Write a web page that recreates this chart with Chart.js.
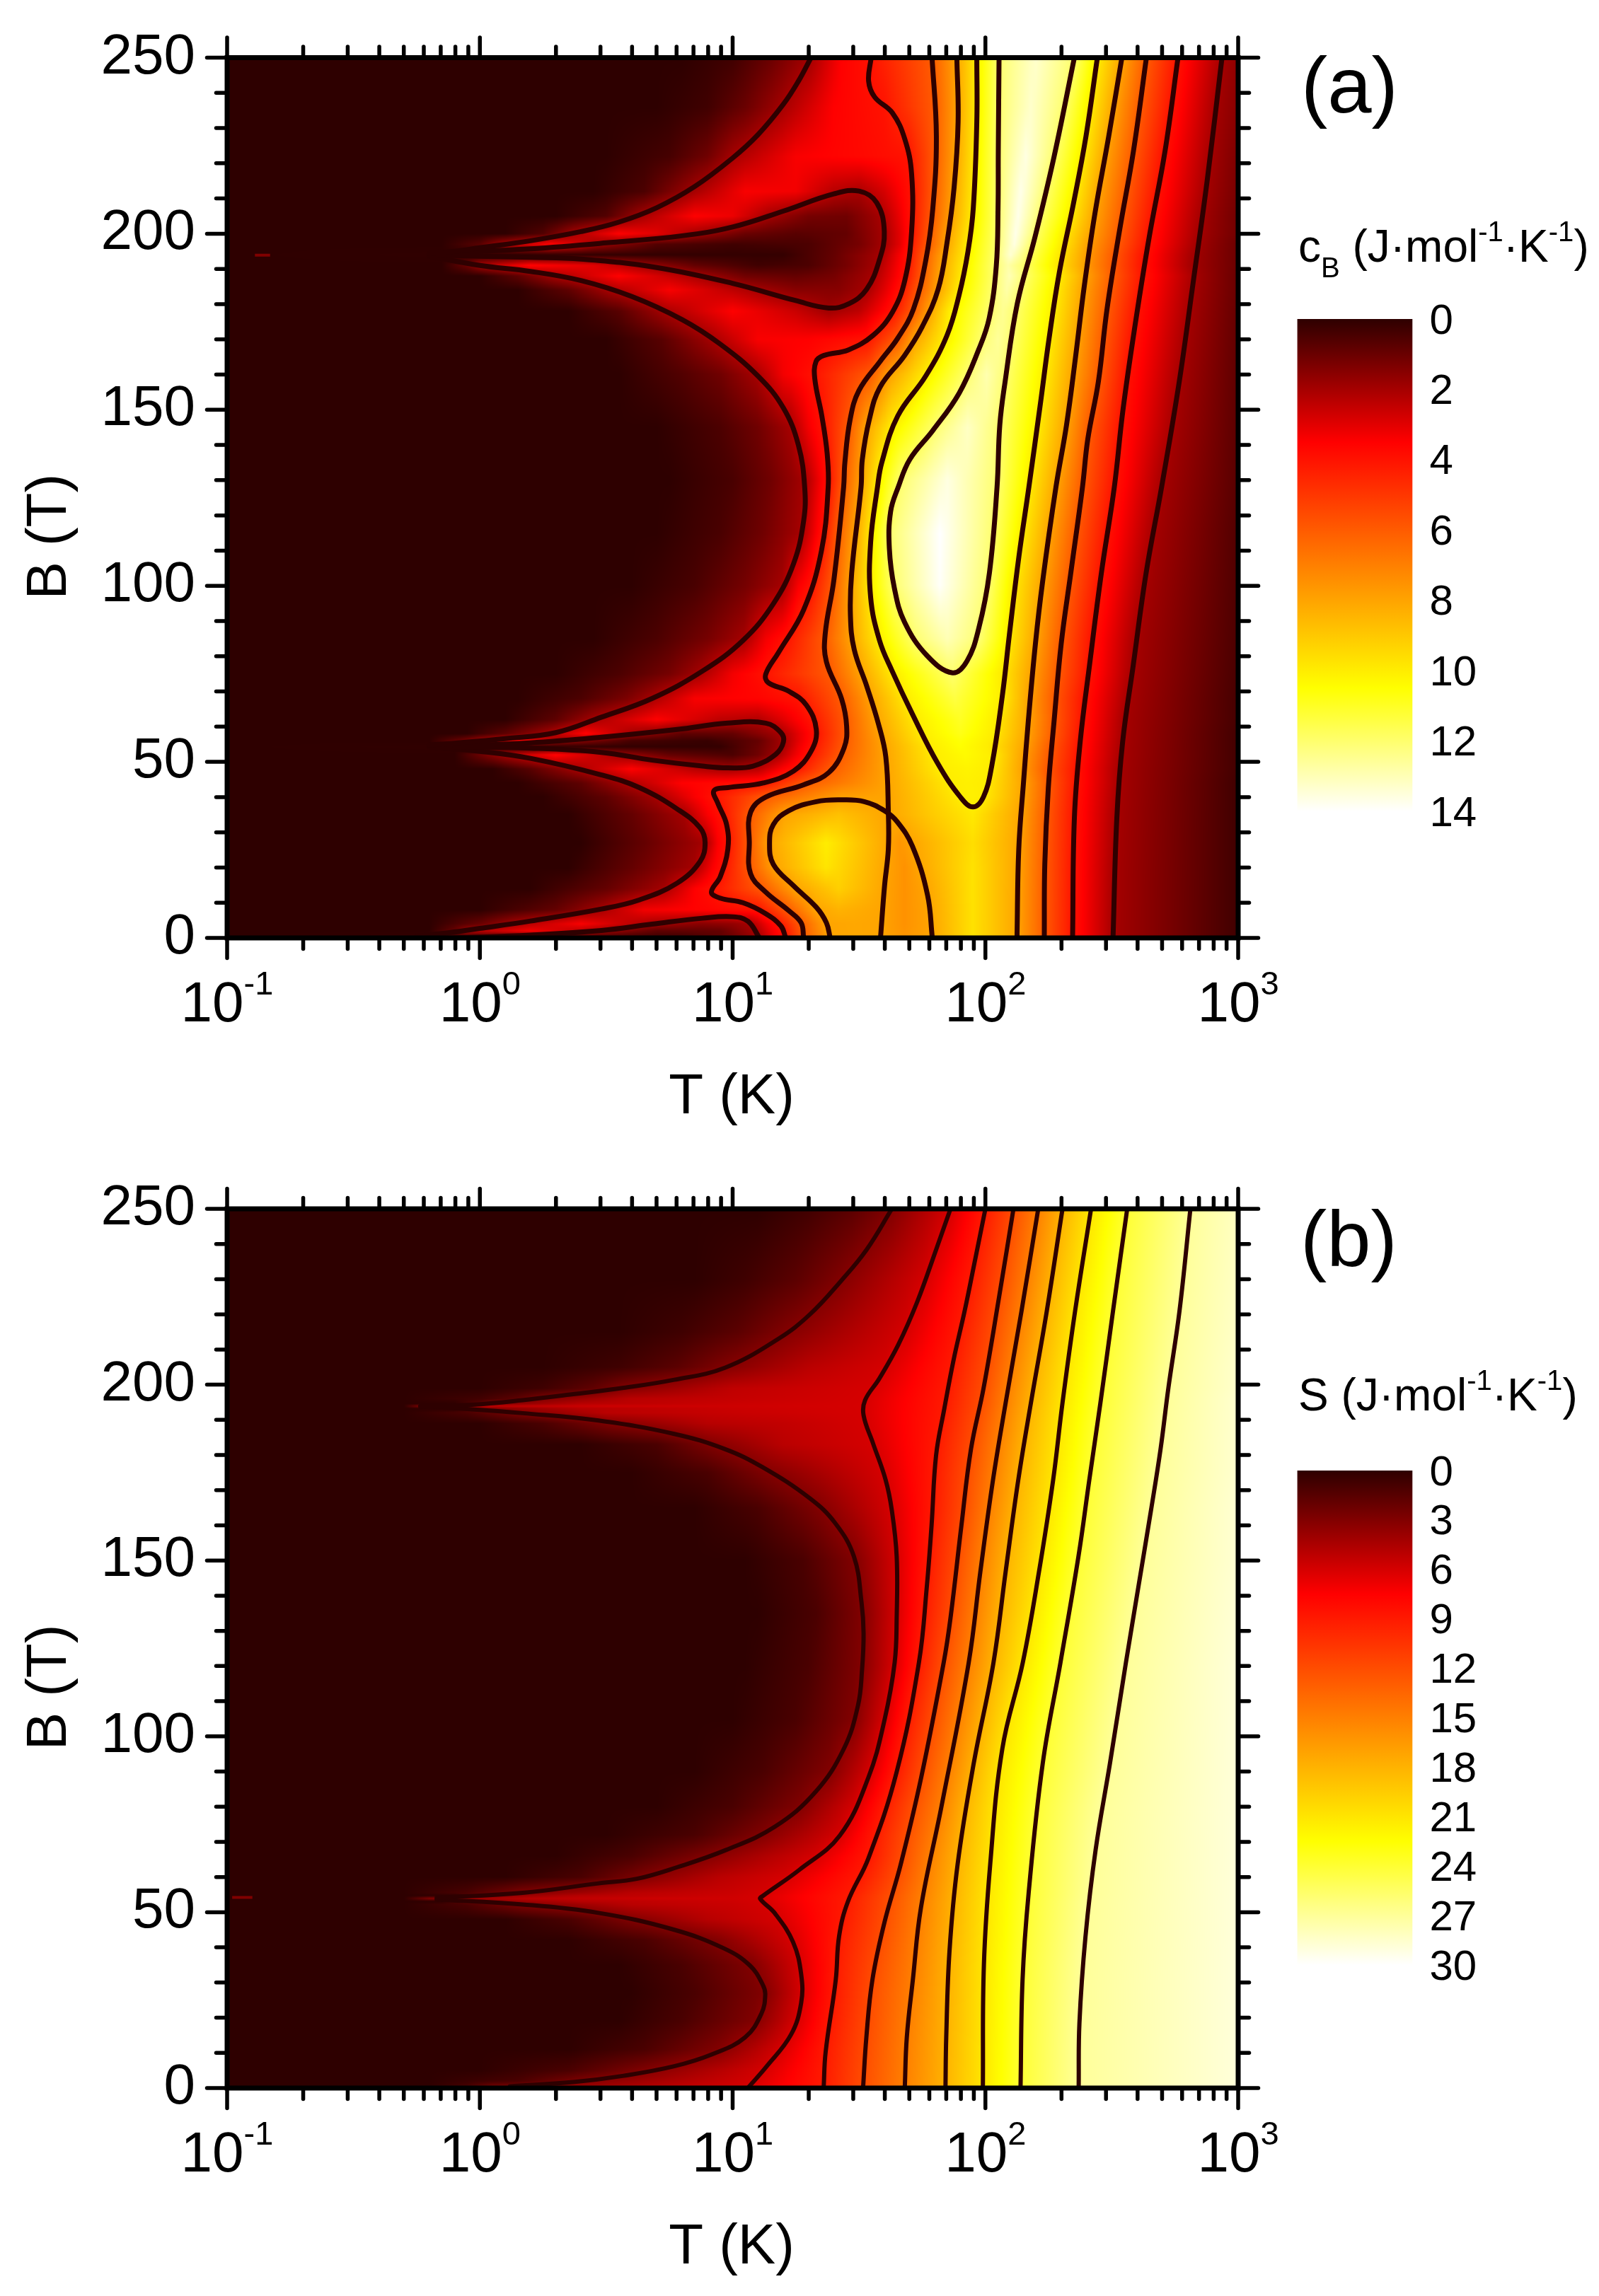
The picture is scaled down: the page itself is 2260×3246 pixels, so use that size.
<!DOCTYPE html>
<html>
<head>
<meta charset="utf-8">
<script src="https://cdn.jsdelivr.net/npm/chart.js@4"></script>
<style>
html, body { margin: 0; background: #fff; }
#page { position: relative; width: 2260px; height: 3246px; overflow: hidden; font-family: "Liberation Sans", Arial, sans-serif; color: #000; }
canvas { position: absolute; }
.panel { position: absolute; font-size: 112px; line-height: 1; white-space: nowrap; }
.caption { position: absolute; font-size: 64px; line-height: 1; white-space: nowrap; }
.caption sup, .caption sub { font-size: 40px; line-height: 0; }
.caption sup { vertical-align: 29px; }
.caption sub { vertical-align: -22px; }
</style>
</head>
<body>
<div id="page">
  <canvas id="chartA" width="1900" height="1623" style="left:0;top:0"></canvas>
  <canvas id="chartB" width="1900" height="1623" style="left:0;top:1623px"></canvas>
  <canvas id="barA" width="460" height="800" style="left:1800px;top:400px"></canvas>
  <canvas id="barB" width="460" height="800" style="left:1800px;top:2030px"></canvas>
  <div class="panel" style="left:1839px;top:65px">(a)</div>
  <div class="panel" style="left:1838px;top:1696px">(b)</div>
  <div class="caption" style="left:1835px;top:316px">c<sub>B</sub> (J·mol<sup>-1</sup>·K<sup>-1</sup>)</div>
  <div class="caption" style="left:1835px;top:1940px">S (J·mol<sup>-1</sup>·K<sup>-1</sup>)</div>
</div>
<script>
// axis ticks
const xMajor = [0.1, 1, 10, 100, 1000];
const xMajorLabels = ['-1', '0', '1', '2', '3'];
const xMinorSteps = [2, 3, 4, 5, 6, 7, 8, 9];
const cbBarTicks = 2;
const sBarTicks = 3;

// c_B field: one list per B row, pairs of log10(T), value
const cbRows = [0, 2, 4, 8, 14, 20, 27, 35, 40, 44, 48, 52, 54.3, 56, 58, 62, 68, 75, 85, 100, 115, 130, 145, 160, 170, 178, 184, 188, 191, 194, 197, 200, 205, 212, 222, 236, 250];
const cbProfiles = [
  [-1,0,.8,.2,1,1,1.11,2,1.16,3.2,1.21,4,1.281,6,1.386,8,1.49,8.1,1.586,8,1.68,7.6,1.79,8,1.95,9.7,2.125,8,2.233,6,2.345,4,2.505,2,3,.3],
  [-1,0,-.2,0,-.1,1,-.05,2,.2,3.3,.47,2,.7,.8,.95,.9,1.09,2,1.15,3.2,1.2,4,1.276,6,1.378,8,1.485,8.1,1.586,8,1.68,7.55,1.788,8,1.95,9.7,2.126,8,2.233,6,2.345,4,2.505,2,3,.3],
  [-1,0,-.2,0,0,1,.13,2,.4,3.4,.68,2,.88,1.5,1,1.7,1.07,2,1.13,3.2,1.18,4,1.271,6,1.37,8,1.48,8.1,1.587,8,1.68,7.5,1.785,8,1.95,9.7,2.126,8,2.233,6,2.345,4,2.505,2,3,.3],
  [-1,0,0,0,.3,.9,.48,2,.65,3.3,.9,3.6,1.1,4,1.221,6,1.33,8,1.42,8.4,1.592,8,1.68,7.5,1.78,8,1.95,9.7,2.127,8,2.233,6,2.346,4,2.506,2,3,.3],
  [-1,0,.2,0,.5,.9,.73,2,.85,3.5,.925,4,1.12,6,1.25,8,1.42,9.2,1.6,8,1.68,7.5,1.765,8,1.95,9.7,2.128,8,2.234,6,2.347,4,2.508,2,3,.3],
  [-1,0,.35,0,.6,.9,.85,2,.92,3.4,.965,4,1.07,6,1.17,8,1.37,9.8,1.608,8,1.68,7.5,1.737,8,1.95,9.7,2.13,8,2.235,6,2.348,4,2.51,2,3,.3],
  [-1,0,.4,0,.65,.9,.891,2,.94,3.4,.98,4,1.066,6,1.146,8,1.37,10,1.616,8,1.66,7.6,1.71,8,1.95,9.6,2.133,8,2.237,6,2.35,4,2.515,2,3,.3],
  [-1,0,.35,0,.6,.9,.81,2,.9,3.4,.96,4,1.07,6,1.205,8,1.42,8.8,1.616,8,1.78,9,1.95,9.9,2.14,8,2.24,6,2.352,4,2.52,2,3,.3],
  [-1,0,.25,0,.5,.8,.7,2,.85,3.4,.93,4,1.131,6,1.431,7.9,1.616,8,1.9,10,1.95,10.1,1.99,10,2.147,8,2.247,6,2.355,4,2.525,2,3,.3],
  [-1,0,.15,0,.4,.8,.57,2,.8,3.5,1.121,4,1.29,6,1.612,8,1.865,10,1.93,10.1,2,10,2.15,8,2.25,6,2.36,4,2.53,2,3,.3],
  [-1,0,.05,0,.2,.7,.38,2,.6,3.5,.85,2.3,.98,1.9,1.1,2.3,1.2,3.5,1.25,4,1.39,6,1.61,8,1.82,10,1.93,10.2,2.02,10,2.14,8,2.24,6,2.36,4,2.53,2,3,.35],
  [-1,0,-.1,0,0,1,.1,2,.3,3.6,.54,2,.75,.9,1,.5,1.1,1.1,1.18,2,1.24,3.1,1.3,4,1.43,6,1.605,8,1.8,10,1.92,10.4,2.03,10,2.145,8,2.25,6,2.368,4,2.538,2,3,.35],
  [-1,0,.95,.1,1.1,1,1.2,2,1.26,3.2,1.315,4,1.442,6,1.6,8,1.79,10,1.9,10.5,2.01,10,2.155,8,2.255,6,2.372,4,2.54,2,3,.35],
  [-1,0,-.2,0,-.08,1,0,2,.15,3.6,.31,2,.6,.4,.9,.15,1.1,.9,1.2,2,1.27,3.2,1.325,4,1.447,6,1.594,8,1.77,10,1.9,10.6,2.02,10,2.16,8,2.262,6,2.375,4,2.543,2,3,.35],
  [-1,0,-.05,0,.1,.8,.27,2,.42,3.6,.6,2,.8,.8,1,.9,1.19,2,1.27,3.2,1.331,4,1.45,6,1.585,8,1.755,10,1.9,10.8,2.03,10,2.165,8,2.268,6,2.378,4,2.546,2,3,.35],
  [-1,0,.1,0,.3,.8,.45,2,.7,3.5,.95,2.4,1.1,2.2,1.2,3,1.31,4,1.45,6,1.57,8,1.73,10,1.9,11,2.04,10,2.17,8,2.272,6,2.385,4,2.55,2,3,.4],
  [-1,0,.15,0,.4,.5,.58,1.3,.681,2,.85,3.4,1.1,3.6,1.256,4,1.431,6,1.55,8,1.69,10,1.88,11.4,2.067,10,2.168,8,2.27,6,2.39,4,2.565,2,3,.4],
  [-1,0,.3,0,.55,.5,.75,1.2,.87,2,1,3.3,1.131,4,1.39,6,1.51,8,1.64,10,1.87,12,2.06,10,2.178,8,2.285,6,2.41,4,2.58,2,3,.45],
  [-1,0,.45,0,.7,.5,.9,1.2,1.045,2,1.13,3.3,1.214,4,1.366,6,1.47,8,1.58,10,1.72,12,1.85,13,1.98,12,2.09,10,2.2,8,2.3,6,2.42,4,2.595,2,3,.5],
  [-1,0,.6,0,.85,.45,1.05,1.2,1.197,2,1.26,3.4,1.31,4,1.397,6,1.468,8,1.546,10,1.638,12,1.82,13.9,2.012,12,2.108,10,2.222,8,2.328,6,2.452,4,2.63,2,3,.55],
  [-1,0,.7,0,.95,.45,1.12,1.1,1.27,2,1.33,3.4,1.358,4,1.415,6,1.486,8,1.55,10,1.622,12,1.82,14,2.03,12,2.144,10,2.252,8,2.356,6,2.482,4,2.664,2,3,.6],
  [-1,0,.75,0,1,.45,1.15,1.1,1.286,2,1.345,3.3,1.38,4,1.44,6,1.51,8,1.575,10,1.665,12,1.85,13.6,2.048,12,2.174,10,2.285,8,2.385,6,2.512,4,2.7,2,3,.7],
  [-1,0,.7,0,.95,.5,1.1,1.1,1.23,2,1.3,3.3,1.358,4,1.46,6,1.53,8,1.63,10,1.8,12,1.93,13.2,2.057,12,2.205,10,2.319,8,2.41,6,2.535,4,2.74,2,3,.75],
  [-1,0,.55,0,.8,.6,.95,1.1,1.095,2,1.2,3.3,1.325,4,1.545,6,1.626,8,1.764,10,1.928,12,2.005,12.9,2.082,12,2.233,10,2.345,8,2.45,6,2.56,4,2.77,2,3,.8],
  [-1,0,.5,0,.72,.7,.92,2,1.1,3.4,1.3,3.5,1.53,4,1.653,6,1.72,8,1.84,10,1.987,12,2.05,12.6,2.104,12,2.252,10,2.363,8,2.465,6,2.58,4,2.79,2,3,.85],
  [-1,0,.35,0,.55,.7,.73,2,1,3.5,1.25,2.6,1.38,1.9,1.5,2.4,1.632,4,1.715,6,1.78,8,1.857,10,2.02,12,2.07,12.5,2.118,12,2.27,10,2.375,8,2.481,6,2.598,4,2.806,2,3,.9],
  [-1,0,.15,0,.35,.8,.51,2,.75,3.4,1.1,2,1.25,1.5,1.42,1.5,1.53,2,1.6,3,1.665,4,1.737,6,1.813,8,1.896,10,2.03,12,2.085,12.8,2.14,12,2.28,10,2.385,8,2.494,6,2.615,4,2.816,2,3,.95],
  [-1,0,0,0,.15,.8,.29,2,.55,3.5,.87,2,1.05,1.1,1.25,.9,1.4,1.2,1.553,2,1.62,3,1.684,4,1.75,6,1.82,8,1.91,10,2.036,12,2.095,13,2.155,12,2.291,10,2.397,8,2.503,6,2.624,4,2.825,2,3,.95],
  [-1,0,-.15,0,-.05,1,0,2,.2,3.6,.45,3,.63,2,.85,.9,1.1,.3,1.3,.5,1.45,1.2,1.57,2,1.63,3,1.69,4,1.755,6,1.825,8,1.915,10,2.035,12,2.09,12.8,2.15,12,2.275,10,2.385,8,2.5,6,2.62,4,2.81,2,3,1],
  [-1,0,1.2,.1,1.4,.9,1.585,2,1.64,3,1.695,4,1.76,6,1.833,8,1.925,10,2.04,12,2.1,13.4,2.165,12,2.285,10,2.39,8,2.505,6,2.625,4,2.815,2,3,1],
  [-1,0,-.15,0,0,.7,.09,2,.28,3.5,.4,2.6,.45,2,.7,.6,1,.3,1.3,.5,1.5,1.2,1.6,2,1.66,3,1.7,4,1.775,6,1.848,8,1.93,10,2.045,12,2.115,13.6,2.18,12,2.3,10,2.4,8,2.52,6,2.64,4,2.83,2,3,1],
  [-1,0,.1,0,.25,.6,.37,2,.55,3.5,.7,3,.85,2,1.05,1,1.25,.7,1.45,.9,1.6,2,1.66,3,1.708,4,1.78,6,1.853,8,1.94,10,2.047,12,2.12,13.7,2.196,12,2.31,10,2.415,8,2.53,6,2.648,4,2.84,2,3,1.1],
  [-1,0,.3,0,.5,.6,.64,2,.85,3.5,1,3.2,1.14,2,1.3,1.2,1.45,1.1,1.585,2,1.65,3,1.708,4,1.79,6,1.868,8,1.95,10,2.05,12,2.13,13.7,2.216,12,2.337,10,2.431,8,2.542,6,2.661,4,2.85,2,3,1.1],
  [-1,0,.45,0,.65,.5,.85,2,1.05,3.4,1.25,3.3,1.4,2.3,1.5,2.05,1.6,2.8,1.708,4,1.796,6,1.875,8,1.955,10,2.05,12,2.14,13.7,2.239,12,2.357,10,2.448,8,2.558,6,2.678,4,2.87,2,3,1.2],
  [-1,0,.5,0,.75,.4,.9,1.1,1,2,1.25,3.4,1.5,3.7,1.695,4,1.8,6,1.884,8,1.96,10,2.05,12,2.16,13.6,2.272,12,2.384,10,2.473,8,2.581,6,2.7,4,2.889,2,3,1.3],
  [-1,0,.7,0,.9,.3,1.05,1,1.2,2,1.4,3.5,1.6,4,1.8,6,1.89,8,1.966,10,2.052,12,2.18,13.3,2.312,12,2.414,10,2.507,8,2.61,6,2.735,4,2.911,2,3,1.5],
  [-1,0,.8,0,1,.3,1.15,1,1.31,2,1.43,3.5,1.548,4,1.789,6,1.887,8,1.966,10,2.054,12,2.2,13.3,2.352,12,2.443,10,2.54,8,2.637,6,2.762,4,2.936,2,3,1.6]
];

// c_B contour lines of panel (a), pairs of log10(T), B
const cbArchTop = [[-.2,194.4],[-.1,195],[0,196],[.2,198],[.4,200.6],[.55,203.3],[.7,207.4],[.85,213.4],[1,221.5],[1.1,228.1],[1.2,236.7],[1.26,243.3],[1.31,250]];
const cbLobe194 = [[-.2,194.2],[0,195],[.2,195.7],[.5,197.4],[.8,199.4],[1,201.9],[1.2,206.4],[1.4,211.3],[1.5,212.1],[1.57,208.8],[1.6,200.6],[1.58,192.4],[1.53,184.2],[1.46,180.1],[1.38,178.9],[1.25,181],[1,185.9],[.7,190.4],[.4,192.8],[.2,193.3],[0,193.6],[-.2,194]];
const cbArchLow = [[-.2,193.6],[0,191],[.2,189.3],[.4,186.7],[.6,182.2],[.8,175.6],[.95,168.7],[1.1,159.6],[1.2,150.6],[1.26,140],[1.285,128],[1.281,118.5],[1.241,106.3],[1.161,94.9],[1.041,84.5],[.881,75.8],[.681,68],[.481,62.7],[.3,58.3],[.1,56.6],[-.1,55.3],[-.2,54.8]];
const cbLobe54 = [[-.1,54.6],[.2,55.4],[.481,57],[.781,59.2],[.981,61],[1.131,61],[1.191,58.3],[1.201,55.7],[1.171,52.2],[1.081,48.8],[.981,48.3],[.881,48.8],[.681,50.5],[.481,52.7],[.2,53.9],[-.1,54.3]];
const cbLobe27 = [[-.2,54.2],[0,53],[.2,51],[.481,46.3],[.631,42.7],[.781,36.6],[.871,31.3],[.891,27],[.871,21.7],[.781,15.6],[.631,10.8],[.481,8.2],[.2,4.8],[0,2.7],[-.12,1.5],[-.25,.5]];
const cbLobe0 = [[-.1,0],[.2,.8],[.481,2.1],[.681,3.9],[.881,5.6],[1.001,6],[1.061,4.7],[1.106,0]];
const cbLevel4 = [[1.548,250],[1.538,243.3],[1.562,238.8],[1.632,234.3],[1.681,226.9],[1.708,217],[1.708,200.6],[1.681,186.7],[1.632,177.7],[1.555,171.1],[1.458,167],[1.36,165.4],[1.33,163.7],[1.325,158.8],[1.353,148.2],[1.374,137.5],[1.378,128],[1.351,109.8],[1.281,93.2],[1.181,81],[1.131,74.9],[1.141,72.5],[1.221,70.1],[1.291,66.2],[1.331,59.2],[1.311,53.1],[1.241,47.4],[1.121,44],[.981,42.7],[.926,41.8],[.941,38.3],[.976,32.2],[.981,25.2],[.951,17.4],[.916,13],[.951,11.3],[1.041,10],[1.131,6.9],[1.191,3.4],[1.21,0]];
const cbLevel6 = [[1.789,250],[1.806,227.7],[1.792,207.2],[1.764,192.4],[1.715,178.5],[1.653,170.3],[1.583,163.7],[1.5,155.5],[1.465,147.3],[1.444,135],[1.439,128],[1.401,101.9],[1.366,86.2],[1.371,78.4],[1.431,67.9],[1.451,60.1],[1.441,54],[1.381,47],[1.281,43.5],[1.131,40],[1.071,35.7],[1.066,27],[1.071,18.2],[1.131,13],[1.221,7.8],[1.271,4.3],[1.281,0]];
const cbLevel8 = [[1.887,250],[1.892,231.8],[1.876,213],[1.848,197.4],[1.813,184.2],[1.75,173.6],[1.68,165.4],[1.583,156.4],[1.541,147.3],[1.513,135.9],[1.508,128],[1.471,103.7],[1.466,91.5],[1.481,81.9],[1.531,71.4],[1.576,61],[1.606,51.4],[1.616,35.7],[1.616,25.2],[1.601,14.8],[1.585,0]];
const cbDome8 = [[1.386,0],[1.371,4.3],[1.331,8.7],[1.241,14.8],[1.161,20.9],[1.146,27],[1.161,32.2],[1.221,36.1],[1.331,38.7],[1.431,39.2],[1.521,38.7],[1.601,36.1],[1.651,33],[1.711,26.1],[1.771,12.2],[1.79,0]];
const cbLevel10 = [[1.966,250],[1.966,231.8],[1.952,207.2],[1.931,194.9],[1.896,182.6],[1.848,171.1],[1.764,159.6],[1.653,148.2],[1.59,135],[1.573,128],[1.546,112.4],[1.546,96.7],[1.581,84.5],[1.631,75.8],[1.711,63.6],[1.811,49.6],[1.901,40],[1.951,37.2],[1.992,40],[2.025,48.8],[2.067,68.8],[2.095,86.2],[2.132,108],[2.172,128],[2.217,151.4],[2.252,170.3],[2.293,189.2],[2.349,208.8],[2.398,227.7],[2.443,250]];
const cbLevel12 = [[2.054,250],[2.051,223.6],[2.05,207.2],[2.043,190.8],[2.015,176],[1.973,167],[1.896,154.7],[1.792,144.1],[1.701,135.9],[1.655,128],[1.625,121.1],[1.62,110.6],[1.64,99.3],[1.68,89.7],[1.77,80.1],[1.87,75.3],[1.927,78.6],[1.974,88],[2.016,103.7],[2.046,128],[2.057,145.7],[2.078,158],[2.126,180.1],[2.196,199],[2.272,222],[2.352,250]];
const cbRight8 = [[2.125,0],[2.132,25.2],[2.151,44.4],[2.17,61.8],[2.198,83.6],[2.226,101],[2.279,128],[2.321,145.7],[2.356,164.6],[2.391,185],[2.433,205.6],[2.488,227.7],[2.54,250]];
const cbRight6 = [[2.233,0],[2.235,20.9],[2.249,42.7],[2.272,61.8],[2.3,83.6],[2.338,103.7],[2.384,128],[2.405,141.6],[2.447,158],[2.481,178.5],[2.53,200.6],[2.586,223.6],[2.637,250]];
const cbRight4 = [[2.345,0],[2.352,34],[2.375,55.7],[2.412,77.5],[2.459,103.7],[2.51,128],[2.544,149.8],[2.593,174.4],[2.648,199],[2.711,223.6],[2.762,250]];
const cbRight2 = [[2.505,0],[2.52,34],[2.543,55.7],[2.585,77.5],[2.636,103.7],[2.697,128],[2.767,158],[2.823,186.7],[2.878,215.4],[2.936,250]];
const cbContours = [cbArchTop, cbLobe194, cbArchLow, cbLobe54, cbLobe27, cbLobe0, cbLevel4, cbLevel6, cbLevel8, cbDome8, cbLevel10, cbLevel12, cbRight8, cbRight6, cbRight4, cbRight2];
const cbStreaks = [[[-.89,193.9],[-.83,193.9]]];

// S field
const sRows = [0, 2, 5, 11, 19, 27, 35, 42, 48, 52.2, 53.1, 53.9, 54.7, 55.5, 60, 66, 72, 80, 90, 105, 120, 135, 150, 165, 175, 183, 189, 192, 193.2, 193.9, 194.6, 196, 199, 205, 215, 230, 250];
const sProfiles = [
  [-1,0,-.2,0,-.05,1,.05,3,1.06,6,1.36,9,1.516,12,1.681,15,1.842,18,1.99,21,2.139,24,2.369,27,3,28.9],
  [-1,0,-.2,0,.15,1,.41,3,1.09,6,1.36,9,1.517,12,1.682,15,1.842,18,1.99,21,2.139,24,2.369,27,3,28.9],
  [-1,0,0,0,.35,1,.65,3,1.125,6,1.362,9,1.52,12,1.685,15,1.843,18,1.99,21,2.14,24,2.37,27,3,28.9],
  [-1,0,.35,0,.65,1,.942,3,1.19,6,1.37,9,1.529,12,1.689,15,1.846,18,1.991,21,2.141,24,2.371,27,3,28.9],
  [-1,0,.55,0,.8,1,1.087,3,1.25,6,1.39,9,1.54,12,1.698,15,1.849,18,1.992,21,2.143,24,2.373,27,3,28.9],
  [-1,0,.6,0,.85,1,1.127,3,1.271,6,1.405,9,1.548,12,1.708,15,1.853,18,1.993,21,2.146,24,2.38,27,3,28.9],
  [-1,0,.55,0,.8,1,1.08,3,1.265,6,1.41,9,1.565,12,1.72,15,1.856,18,1.995,21,2.15,24,2.385,27,3,28.9],
  [-1,0,.35,0,.65,1,.94,3,1.235,6,1.42,9,1.585,12,1.73,15,1.862,18,2,21,2.16,24,2.395,27,3,28.9],
  [-1,0,.1,0,.35,1,.6,3,.9,4.9,1.18,6,1.44,9,1.6,12,1.74,15,1.869,18,2.004,21,2.165,24,2.405,27,3,28.9],
  [-1,0,-.3,0,-.05,1,.169,3,.6,5,1,5.6,1.136,6,1.45,9,1.61,12,1.745,15,1.872,18,2.006,21,2.168,24,2.41,27,3,28.9],
  [-1,0,-.15,0,-.08,1.5,-.05,3,.4,4.9,1,5.7,1.12,6,1.452,9,1.612,12,1.747,15,1.873,18,2.007,21,2.169,24,2.412,27,3,28.9],
  [-1,0,-.3,0,-.2,3,.2,5,.7,5.7,1,5.8,1.109,6,1.455,9,1.615,12,1.75,15,1.875,18,2.008,21,2.17,24,2.415,27,3,28.9],
  [-1,0,-.1,0,-.05,1.5,-.02,3,.4,4.9,1,5.7,1.11,6,1.46,9,1.618,12,1.752,15,1.876,18,2.009,21,2.171,24,2.418,27,3,28.9],
  [-1,0,-.3,0,-.05,1,.169,3,.6,5,1,5.6,1.13,6,1.47,9,1.625,12,1.755,15,1.878,18,2.01,21,2.172,24,2.42,27,3,28.9],
  [-1,0,.1,0,.4,1,.65,3,.95,5,1.21,6,1.51,9,1.65,12,1.767,15,1.885,18,2.015,21,2.175,24,2.425,27,3,28.9],
  [-1,0,.3,0,.6,1,.9,3,1.15,4.8,1.33,6,1.55,9,1.672,12,1.78,15,1.895,18,2.022,21,2.18,24,2.43,27,3,28.9],
  [-1,0,.5,0,.85,1,1.12,3,1.424,6,1.565,9,1.685,12,1.8,15,1.905,18,2.03,21,2.187,24,2.44,27,3,28.9],
  [-1,0,.7,0,1,1,1.27,3,1.48,6,1.6,9,1.71,12,1.826,15,1.92,18,2.04,21,2.2,24,2.455,27,3,28.9],
  [-1,0,.85,0,1.12,1,1.385,3,1.545,6,1.65,9,1.75,12,1.853,15,1.95,18,2.056,21,2.223,24,2.488,27,3,28.9],
  [-1,0,1,0,1.25,1,1.48,3,1.6,6,1.692,9,1.792,12,1.892,15,1.99,18,2.095,21,2.258,24,2.52,27,3,28.9],
  [-1,0,1.05,0,1.3,1,1.51,3,1.637,6,1.735,9,1.83,12,1.932,15,2.03,18,2.145,21,2.295,24,2.553,27,3,28.9],
  [-1,0,1.1,0,1.33,1,1.515,3,1.649,6,1.76,9,1.864,12,1.962,15,2.058,18,2.185,21,2.33,24,2.59,27,3,28.8],
  [-1,0,1.05,0,1.28,1,1.485,3,1.649,6,1.778,9,1.89,12,1.985,15,2.085,18,2.22,21,2.366,24,2.624,27,3,28.7],
  [-1,0,.85,0,1.1,1,1.345,3,1.627,6,1.795,9,1.917,12,2.015,15,2.115,18,2.25,21,2.395,24,2.657,27,3,28.7],
  [-1,0,.6,0,.9,1,1.14,3,1.595,6,1.8,9,1.93,12,2.035,15,2.135,18,2.27,21,2.415,24,2.68,27,3,28.6],
  [-1,0,.4,0,.7,1,.92,3,1.2,5,1.555,6,1.812,9,1.947,12,2.05,15,2.15,18,2.284,21,2.43,24,2.695,27,3,28.6],
  [-1,0,0,0,.25,1,.52,3,.9,4.9,1.2,5.3,1.527,6,1.826,9,1.963,12,2.064,15,2.164,18,2.292,21,2.441,24,2.705,27,3,28.6],
  [-1,0,-.3,0,-.05,1,.169,3,.5,5,1,5.5,1.518,6,1.835,9,1.972,12,2.072,15,2.172,18,2.299,21,2.449,24,2.711,27,3,28.6],
  [-1,0,-.1,0,-.03,1.5,.02,3,.4,4.9,1,5.6,1.519,6,1.838,9,1.977,12,2.075,15,2.175,18,2.3,21,2.45,24,2.714,27,3,28.6],
  [-1,0,-.3,0,-.236,3,0,5,.5,5.7,1,5.7,1.52,6,1.84,9,1.98,12,2.078,15,2.178,18,2.302,21,2.452,24,2.716,27,3,28.6],
  [-1,0,-.1,0,0,1.5,.05,3,.4,4.9,1,5.6,1.52,6,1.841,9,1.982,12,2.08,15,2.18,18,2.304,21,2.454,24,2.718,27,3,28.6],
  [-1,0,-.3,0,0,.7,.15,1.7,.25,3,.6,5,1,5.4,1.524,6,1.845,9,1.985,12,2.082,15,2.183,18,2.306,21,2.457,24,2.72,27,3,28.6],
  [-1,0,0,0,.25,.6,.45,1.8,.569,3,1,5.2,1.55,6,1.853,9,1.993,12,2.09,15,2.19,18,2.313,21,2.462,24,2.724,27,3,28.5],
  [-1,0,.25,0,.55,.6,.78,1.6,.969,3,1.3,5,1.605,6,1.87,9,2.007,12,2.104,15,2.204,18,2.324,21,2.474,24,2.737,27,3,28.5],
  [-1,0,.55,0,.8,.6,1.02,1.6,1.21,3,1.685,6,1.9,9,2.03,12,2.129,15,2.229,18,2.343,21,2.493,24,2.756,27,3,28.4],
  [-1,0,.85,0,1.05,.6,1.25,1.6,1.43,3,1.763,6,1.944,9,2.066,12,2.166,15,2.262,18,2.375,21,2.522,24,2.781,27,3,28.3],
  [-1,0,1.1,0,1.3,.7,1.47,1.6,1.63,3,1.862,6,2,9,2.111,12,2.209,15,2.305,18,2.418,21,2.561,24,2.811,27,3,28.2]
];

// S contour lines of panel (b)
const sWingTop = [[-.236,193.9],[-.031,194.3],[.169,195.6],[.369,197.3],[.569,199.1],[.769,201.4],[.969,204.8],[1.18,213],[1.306,220],[1.43,229.6],[1.53,238.4],[1.63,250]];
const sArch = [[-.236,193.8],[-.031,193],[.169,191.9],[.469,189.8],[.769,186],[.969,181.7],[1.119,176.5],[1.305,167.7],[1.405,160.7],[1.48,151.1],[1.51,138],[1.518,129.3],[1.512,119],[1.496,108.8],[1.44,96.5],[1.328,84.2],[1.167,74.3],[.974,67.7],[.781,62.8],[.621,59.5],[.469,58.2],[.169,55.5],[-.171,54.1]];
const sLobe27 = [[-.171,53.6],[.169,52.2],[.469,49.8],[.769,45],[.969,39.6],[1.069,34.8],[1.119,29.4],[1.129,26.6],[1.114,21.2],[1.049,14.4],[.919,9.6],[.769,6.2],[.569,3.5],[.369,1.7],[.119,.5]];
const sLevel6 = [[1.862,250],[1.805,238.4],[1.73,223.5],[1.655,211.3],[1.58,201.7],[1.524,195.6],[1.518,191.3],[1.555,183.4],[1.605,173],[1.63,164.2],[1.649,151.1],[1.649,133.7],[1.641,121],[1.601,104.7],[1.537,88.3],[1.424,71.8],[1.263,62],[1.119,54.6],[1.109,53.8],[1.167,49.7],[1.239,41.5],[1.271,32.4],[1.271,24.2],[1.231,15.2],[1.135,6.2],[1.06,0]];
const sLevel9 = [[2,250],[1.955,234],[1.918,221],[1.874,207],[1.837,193],[1.805,180],[1.787,160],[1.768,142.4],[1.737,121],[1.649,89.9],[1.537,65.3],[1.456,53],[1.421,43.1],[1.408,30.8],[1.368,10.3],[1.36,0]];
const sLevel12 = [[2.111,250],[2.055,225.3],[1.993,199.1],[1.943,181.7],[1.905,159.9],[1.862,133.7],[1.835,121],[1.746,88.3],[1.665,63.6],[1.601,47.2],[1.553,30.8],[1.529,14.4],[1.516,0]];
const sLevel15 = [[2.209,250],[2.143,221],[2.08,194.8],[2.03,172.9],[1.98,146.8],[1.934,121],[1.826,80],[1.745,51.3],[1.713,30.8],[1.689,14.4],[1.681,0]];
const sLevel18 = [[2.305,250],[2.243,221],[2.18,194.8],[2.13,172.9],[2.08,146.8],[2.032,121],[1.954,92.4],[1.89,63.6],[1.858,39],[1.845,14.4],[1.842,0]];
const sLevel21 = [[2.418,250],[2.355,221],[2.305,194.8],[2.268,172.9],[2.212,146.8],[2.148,121],[2.067,96.5],[2.019,63.6],[1.994,34.9],[1.99,0]];
const sLevel24 = [[2.561,250],[2.505,221],[2.455,194.8],[2.411,172.9],[2.368,151.1],[2.297,121],[2.227,92.4],[2.171,55.4],[2.147,30.8],[2.139,0]];
const sLevel27 = [[2.811,250],[2.768,221],[2.724,199.1],[2.693,181.7],[2.655,164.2],[2.605,142.4],[2.556,121],[2.493,92.4],[2.436,67.7],[2.396,43.1],[2.372,18.5],[2.369,0]];
const sContours = [sWingTop, sArch, sLobe27, sLevel6, sLevel9, sLevel12, sLevel15, sLevel18, sLevel21, sLevel24, sLevel27];
const sStreaks = [[[-.98,54.2],[-.9,54.2]]];

const fontName = '"Liberation Sans", Arial, sans-serif';
const darkRed = '#2e0000';

function heatColor(t) {
    t = Math.min(1, Math.max(0, t));
    if (t < 0.25) return [46 + (255 - 46) * t / 0.25, 0, 0];
    if (t < 0.75) return [255, 255 * (t - 0.25) / 0.5, 0];
    return [255, 255, 255 * (t - 0.75) / 0.25];
}

function sampleRow(knots, lgs) {
    const out = new Float32Array(lgs.length);
    let k = 0;
    for (let i = 0; i < lgs.length; i++) {
        while (k < knots.length - 4 && lgs[i] > knots[k + 2]) k += 2;
        const f = (lgs[i] - knots[k]) / (knots[k + 2] - knots[k]);
        out[i] = knots[k + 1] + (knots[k + 3] - knots[k + 1]) * Math.min(1, Math.max(0, f));
    }
    return out;
}

// paints the read field behind the contour lines, using the chart's own scales
function heatPlugin(rows, profiles, vmax) {
    let image = null;
    return {
        id: 'heat',
        beforeDatasetsDraw(chart) {
            const area = chart.chartArea;
            const w = Math.round(area.right - area.left);
            const h = Math.round(area.bottom - area.top);
            if (!image) {
                image = document.createElement('canvas');
                image.width = w;
                image.height = h;
                const c = image.getContext('2d');
                const data = c.createImageData(w, h);
                const lgs = [];
                for (let i = 0; i < w; i++) lgs.push(Math.log10(chart.scales.x.getValueForPixel(area.left + i + 0.5)));
                const sampled = profiles.map((p) => sampleRow(p, lgs));
                let n = 0;
                for (let j = 0; j < h; j++) {
                    const b = chart.scales.y.getValueForPixel(area.top + j + 0.5);
                    let r = 0;
                    while (r < rows.length - 2 && b > rows[r + 1]) r++;
                    const f = Math.min(1, Math.max(0, (b - rows[r]) / (rows[r + 1] - rows[r])));
                    const lo = sampled[r], hi = sampled[r + 1];
                    for (let i = 0; i < w; i++) {
                        const col = heatColor((lo[i] + (hi[i] - lo[i]) * f) / vmax);
                        data.data[n++] = col[0];
                        data.data[n++] = col[1];
                        data.data[n++] = col[2];
                        data.data[n++] = 255;
                    }
                }
                c.putImageData(data, 0, 0);
            }
            chart.ctx.drawImage(image, area.left, area.top);
        }
    };
}

function line(ctx, x0, y0, x1, y1) {
    ctx.beginPath();
    ctx.moveTo(x0, y0);
    ctx.lineTo(x1, y1);
    ctx.stroke();
}

// frame, outward ticks on all four sides, 10^n labels and axis titles
const framePlugin = {
    id: 'frame',
    afterDatasetsDraw(chart) {
        const ctx = chart.ctx;
        const a = chart.chartArea;
        const x = chart.scales.x;
        const y = chart.scales.y;
        const major = 28.5, minor = 15.5;
        ctx.save();
        ctx.strokeStyle = '#000';
        ctx.fillStyle = '#000';
        ctx.lineCap = 'round';
        ctx.lineWidth = 5.5;
        xMajor.forEach((v, i) => {
            const px = x.getPixelForValue(v);
            line(ctx, px, a.top, px, a.top - major);
            line(ctx, px, a.bottom, px, a.bottom + major);
            if (i === xMajor.length - 1) return;
            xMinorSteps.forEach((m) => {
                const mx = x.getPixelForValue(v * m);
                line(ctx, mx, a.top, mx, a.top - minor);
                line(ctx, mx, a.bottom, mx, a.bottom + minor);
            });
        });
        y.ticks.forEach((t) => {
            const py = y.getPixelForValue(t.value);
            const len = t.value % 50 === 0 ? major : minor;
            line(ctx, a.left, py, a.left - len, py);
            line(ctx, a.right, py, a.right + len, py);
        });
        ctx.lineCap = 'butt';
        ctx.lineWidth = 7;
        ctx.strokeRect(a.left, a.top, a.right - a.left, a.bottom - a.top);

        ctx.textBaseline = 'alphabetic';
        ctx.textAlign = 'left';
        xMajor.forEach((v, i) => {
            const px = x.getPixelForValue(v);
            ctx.font = '80px ' + fontName;
            const w10 = ctx.measureText('10').width;
            ctx.font = '47px ' + fontName;
            const wExp = ctx.measureText(xMajorLabels[i]).width;
            const start = px - (w10 + wExp) / 2;
            ctx.font = '80px ' + fontName;
            ctx.fillText('10', start, a.bottom + 118);
            ctx.font = '47px ' + fontName;
            ctx.fillText(xMajorLabels[i], start + w10, a.bottom + 80);
        });
        ctx.font = '80px ' + fontName;
        ctx.textAlign = 'center';
        ctx.fillText('T (K)', 1034, a.bottom + 248);
        ctx.translate(93, (a.top + a.bottom) / 2 + 55);
        ctx.rotate(-Math.PI / 2);
        ctx.fillText('B (T)', 0, 0);
        ctx.restore();
    }
};

function toPoints(list) {
    return list.map((p) => ({ x: Math.pow(10, p[0]), y: p[1] }));
}

function makePanel(id, rows, profiles, vmax, contours, streaks, top, bottom, lineWidth) {
    const datasets = contours.map((c) => ({
        data: toPoints(c),
        showLine: true,
        borderColor: darkRed,
        borderWidth: lineWidth,
        borderCapStyle: 'round',
        borderJoinStyle: 'round',
        tension: 0.4,
        pointRadius: 0
    }));
    streaks.forEach((s) => datasets.push({
        data: toPoints(s),
        showLine: true,
        borderColor: '#800000',
        borderWidth: 4,
        pointRadius: 0
    }));
    const canvas = document.getElementById(id);
    return new Chart(canvas.getContext('2d'), {
        type: 'scatter',
        data: { datasets: datasets },
        plugins: [heatPlugin(rows, profiles, vmax), framePlugin],
        options: {
            responsive: false,
            animation: false,
            devicePixelRatio: 1,
            events: [],
            layout: { autoPadding: false, padding: { top: top, right: canvas.width - 1750, left: 0, bottom: 0 } },
            plugins: { legend: { display: false }, tooltip: { enabled: false } },
            scales: {
                x: {
                    type: 'logarithmic',
                    min: 0.1,
                    max: 1000,
                    grid: { display: false, drawTicks: false },
                    border: { display: false },
                    ticks: { display: false },
                    afterFit: (s) => { s.height = canvas.height - bottom; s.paddingLeft = 0; s.paddingRight = 0; }
                },
                y: {
                    min: 0,
                    max: 250,
                    grid: { display: false, drawTicks: false },
                    border: { display: false },
                    ticks: {
                        stepSize: 10,
                        autoSkip: false,
                        padding: 45,
                        color: '#000',
                        font: { family: fontName, size: 80 },
                        callback: (v) => (v % 50 === 0 ? String(v) : '')
                    },
                    afterFit: (s) => { s.width = 321; s.paddingTop = 0; s.paddingBottom = 0; }
                }
            }
        }
    });
}

function makeBar(id, vmax, step, top, bottom) {
    const canvas = document.getElementById(id);
    return new Chart(canvas.getContext('2d'), {
        type: 'bar',
        data: {
            labels: [''],
            datasets: [{
                data: [[0, vmax]],
                categoryPercentage: 1,
                barPercentage: 1,
                backgroundColor: (c) => {
                    const area = c.chart.chartArea;
                    if (!area) return '#000';
                    const g = c.chart.ctx.createLinearGradient(0, area.top, 0, area.bottom);
                    g.addColorStop(0, '#2e0000');
                    g.addColorStop(0.25, '#ff0000');
                    g.addColorStop(0.75, '#ffff00');
                    g.addColorStop(1, '#ffffff');
                    return g;
                }
            }]
        },
        options: {
            responsive: false,
            animation: false,
            devicePixelRatio: 1,
            events: [],
            layout: { autoPadding: false, padding: { left: 33.5, top: top, bottom: canvas.height - bottom, right: 0 } },
            plugins: { legend: { display: false }, tooltip: { enabled: false } },
            scales: {
                x: { display: false },
                y: {
                    position: 'right',
                    reverse: true,
                    min: 0,
                    max: vmax,
                    grid: { display: false, drawTicks: false },
                    border: { display: false },
                    ticks: {
                        stepSize: step,
                        autoSkip: false,
                        padding: 24,
                        labelOffset: 4,
                        color: '#000',
                        font: { family: fontName, size: 60 }
                    },
                    afterFit: (s) => { s.width = 263.6; s.paddingTop = 0; s.paddingBottom = 0; }
                }
            }
        }
    });
}

makePanel('chartA', cbRows, cbProfiles, 14, cbContours, cbStreaks, 81.5, 1326, 7);
makePanel('chartB', sRows, sProfiles, 30, sContours, sStreaks, 86, 1329, 6);
makeBar('barA', 14, cbBarTicks, 51, 747);
makeBar('barB', 30, sBarTicks, 49, 748);
</script>
</body>
</html>
